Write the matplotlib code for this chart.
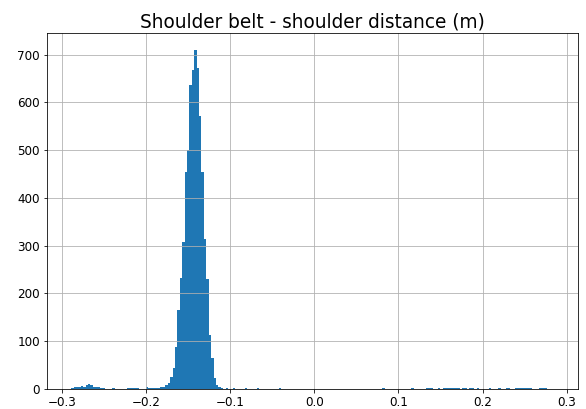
import numpy as np
import matplotlib.pyplot as plt

# histogram range and number of bins
x_min = -0.2893
x_max = 0.2848
n_bins = 200

# counts per bin, left to right
counts = [
    3, 4, 5, 5, 6, 5, 9, 10, 8, 5, 4, 5, 3, 2, 0, 0, 0, 2, 0, 0,
    0, 0, 0, 3, 3, 2, 3, 2, 0, 0, 0, 4, 3, 3, 2, 2, 3, 4, 5, 8,
    12, 26, 45, 89, 166, 233, 307, 455, 500, 637, 669, 710, 673, 571, 455, 314, 230, 114, 65, 22,
    8, 4, 3, 0, 2, 0, 0, 2, 0, 0, 0, 0, 2, 0, 0, 0, 0, 2, 0, 0,
    0, 0, 0, 0, 0, 0, 2, 0, 0, 0, 0, 0, 0, 0, 0, 0, 0, 0, 0, 0,
    0, 0, 0, 0, 0, 0, 0, 0, 0, 0, 0, 0, 0, 0, 0, 0, 0, 0, 0, 0,
    0, 0, 0, 0, 0, 0, 0, 0, 0, 2, 0, 0, 0, 0, 0, 0, 0, 0, 0, 0,
    0, 2, 0, 0, 0, 0, 0, 2, 3, 2, 0, 0, 2, 0, 3, 3, 2, 3, 3, 2,
    3, 0, 2, 3, 0, 3, 2, 0, 2, 0, 0, 0, 0, 2, 0, 0, 0, 2, 0, 0,
    2, 2, 0, 0, 2, 3, 2, 3, 2, 3, 2, 0, 0, 0, 3, 3, 3, 0, 0, 0,
]

edges = np.linspace(x_min, x_max, n_bins + 1)

fig = plt.figure(figsize=(586 / 72, 409 / 72), dpi=72)
ax = fig.add_axes([0.0802, 0.0489, 0.9061, 0.8704])
ax.bar(edges[:-1], counts, width=np.diff(edges), align='edge', color='#1f77b4')
ax.grid(True)
ax.tick_params(labelsize=12)
ax.set_title('Shoulder belt - shoulder distance (m)', fontsize=18.5)

fig.savefig('out.png', dpi=72)
